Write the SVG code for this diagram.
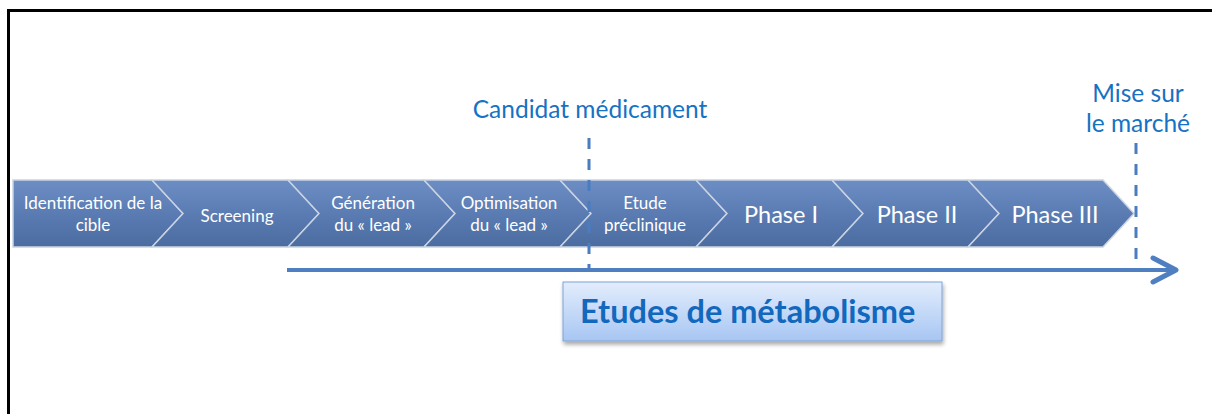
<svg xmlns="http://www.w3.org/2000/svg" width="1212" height="414" viewBox="0 0 1212 414">
<defs>
<linearGradient id="chev" x1="0" y1="0" x2="0" y2="1">
<stop offset="0" stop-color="#6c8ec4"/>
<stop offset="0.5" stop-color="#5a7cb3"/>
<stop offset="1" stop-color="#4c6ca0"/>
</linearGradient>
<linearGradient id="box" x1="0" y1="0" x2="0" y2="1">
<stop offset="0" stop-color="#e3edfc"/>
<stop offset="1" stop-color="#a7c6f3"/>
</linearGradient>
<filter id="sh" x="-10%" y="-20%" width="120%" height="150%">
<feGaussianBlur in="SourceAlpha" stdDeviation="2"/>
<feOffset dx="1" dy="3"/>
<feComponentTransfer><feFuncA type="linear" slope="0.35"/></feComponentTransfer>
<feMerge><feMergeNode/><feMergeNode in="SourceGraphic"/></feMerge>
</filter>
<marker id="open" viewBox="0 0 30 30" refX="26" refY="15" markerWidth="30" markerHeight="30" markerUnits="userSpaceOnUse" orient="auto">
<path d="M3,3 L26,15 L3,27" fill="none" stroke="#4f7fc0" stroke-width="5" stroke-linecap="round" stroke-linejoin="round"/>
</marker>
</defs>
<style>
.chev{fill:url(#chev);stroke:#c9d3e2;stroke-width:1.5}
.t{font-family:Lato,"Open Sans",sans-serif;fill:#ffffff;text-anchor:middle}
.s{font-size:17px}
.p{font-size:23.5px}
.lbl{font-family:Lato,"Open Sans",sans-serif;fill:#1672c4;font-size:24.5px;text-anchor:middle}
.dash{stroke:#4a7cc0;stroke-width:3;stroke-dasharray:11 10;fill:none}
</style>
<rect width="1212" height="414" fill="#ffffff"/>
<path d="M8.5,414 V10.5 H1212" fill="none" stroke="#000000" stroke-width="3"/>

<g id="n0"><polygon class="chev" points="13,180 152,180 183,213.5 152,247 13,247"/>
<text class="t s" x="93" y="209">Identification de la</text><text class="t s" x="93" y="231">cible</text></g>
<g id="n1"><polygon class="chev" points="152,180 288,180 319,213.5 288,247 152,247 183,213.5"/>
<text class="t s" x="237" y="222">Screening</text></g>
<g id="n2"><polygon class="chev" points="288,180 424,180 455,213.5 424,247 288,247 319,213.5"/>
<text class="t s" x="373" y="209">Génération</text><text class="t s" x="373" y="231">du « lead »</text></g>
<g id="n3"><polygon class="chev" points="424,180 560,180 591,213.5 560,247 424,247 455,213.5"/>
<text class="t s" x="509" y="209">Optimisation</text><text class="t s" x="509" y="231">du « lead »</text></g>
<g id="n4"><polygon class="chev" points="560,180 696,180 727,213.5 696,247 560,247 591,213.5"/>
<text class="t s" x="645" y="209">Etude</text><text class="t s" x="645" y="231">préclinique</text></g>
<g id="n5"><polygon class="chev" points="696,180 832,180 863,213.5 832,247 696,247 727,213.5"/>
<text class="t p" x="781" y="223">Phase I</text></g>
<g id="n6"><polygon class="chev" points="832,180 968,180 999,213.5 968,247 832,247 863,213.5"/>
<text class="t p" x="917" y="223">Phase II</text></g>
<g id="n7"><polygon class="chev" points="968,180 1103,180 1134,213.5 1103,247 968,247 999,213.5"/>
<text class="t p" x="1055" y="223">Phase III</text></g>

<g id="candidat"><text class="lbl" x="590" y="118">Candidat médicament</text></g>
<g id="mise"><text class="lbl" x="1138" y="102">Mise sur</text><text class="lbl" x="1138" y="132">le marché</text></g>

<g id="connectors">
<line class="dash" x1="589" y1="138" x2="589" y2="268"/>
<line class="dash" x1="1136" y1="143" x2="1136" y2="268"/>
<line x1="287" y1="270" x2="1176" y2="270" stroke="#4f7fc0" stroke-width="4" marker-end="url(#open)"/>
</g>

<g id="metabolisme">
<rect x="563" y="282" width="379" height="59" fill="url(#box)" stroke="#7fa4d8" stroke-width="1" filter="url(#sh)"/>
<text x="580" y="323" font-family="Lato,'Open Sans',sans-serif" font-weight="bold" font-size="32.5" fill="#1268bd">Etudes de métabolisme</text>
</g>
</svg>
